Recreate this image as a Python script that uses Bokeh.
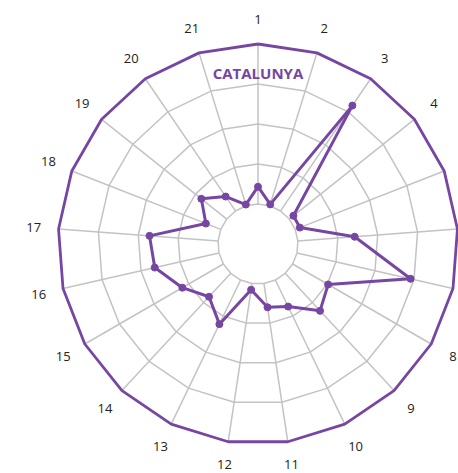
import numpy as np
from bokeh.plotting import figure
from bokeh.models import Range1d, ColumnDataSource
from bokeh.core.properties import value
from bokeh.embed import file_html
from bokeh.resources import INLINE

# ---- data ----
categories = [str(i) for i in range(1, 22)]
values = [10.8, 0.9, 79.7, 3.3, 3.1, 35.6, 72.8, 25.6, 32.0, 18.4, 15.0,
          3.9, 30.6, 20.0, 29.6, 41.2, 43.0, 10.0, 20.3, 10.9, 0.8]
ring_levels = [0, 25, 50, 75]
max_value = 100
title_text = "CATALUNYA"

# ---- styling / geometry ----
PURPLE = "#7646a2"
GRID = "#c3c3c3"
R0 = 40.0      # radius of the empty hole (value 0)
R1 = 200.0     # radius of the outer ring (max value)
LABEL_R = 225.0
W, H = 458, 473
CX, CY = 257.5, 243.5  # centre of the radar in page pixels

n = len(categories)
ang = np.arange(n) * 2 * np.pi / n  # clockwise from top

XR = (-CX, W - CX)
YR = (CY - H, CY)


def rad(v):
    return R0 + (R1 - R0) * np.asarray(v, dtype=float) / max_value


def xy(r, a):
    return r * np.sin(a), r * np.cos(a)


p = figure(width=W, height=H, output_backend="svg", toolbar_location=None,
           x_range=Range1d(*XR), y_range=Range1d(*YR),
           min_border=0, match_aspect=False)
p.axis.visible = False
p.grid.visible = False
p.outline_line_color = None
p.background_fill_color = "white"

# grid rings
ring_xs, ring_ys = [], []
for lv in ring_levels:
    r = rad(lv)
    x, y = xy(np.full(n + 1, r), np.append(ang, ang[0]))
    ring_xs.append(list(x))
    ring_ys.append(list(y))
p.multi_line(ring_xs, ring_ys, line_color=GRID, line_width=1.5)

# spokes
sp_xs, sp_ys = [], []
for a in ang:
    x0, y0 = xy(rad(0), a)
    x1, y1 = xy(rad(max_value), a)
    sp_xs.append([x0, x1])
    sp_ys.append([y0, y1])
p.multi_line(sp_xs, sp_ys, line_color=GRID, line_width=1.5)

# outer ring
ox, oy = xy(np.full(n + 1, rad(max_value)), np.append(ang, ang[0]))
p.line(ox, oy, line_color=PURPLE, line_width=2.8)

# data series
r_vals = rad(values)
dx, dy = xy(np.append(r_vals, r_vals[0]), np.append(ang, ang[0]))
p.line(dx, dy, line_color=PURPLE, line_width=3)
px, py = xy(r_vals, ang)
p.scatter(px, py, size=7, marker="circle", fill_color=PURPLE, line_color=PURPLE)

# category labels (those falling beyond the page edge are not drawn, as in the original)
lx, ly = xy(np.full(n, LABEL_R), ang)
ly = np.maximum(ly, YR[0] + 9)  # keep the bottom labels inside the page
keep = (lx + 5 < XR[1]) & (lx - 5 > XR[0])
src = ColumnDataSource(dict(x=lx[keep], y=ly[keep],
                            t=[c for c, k in zip(categories, keep) if k]))
p.text("x", "y", text="t", source=src, text_align="center", text_baseline="middle",
       text_font=value("Open Sans"), text_font_size="13px", text_color="#222222")

# title
p.text([0], [171.5], text=[title_text], text_align="center", text_baseline="middle",
       text_font=value("Open Sans"), text_font_style="bold", text_font_size="15px",
       text_color=PURPLE)

open("out.html", "w").write(file_html(p, INLINE))
